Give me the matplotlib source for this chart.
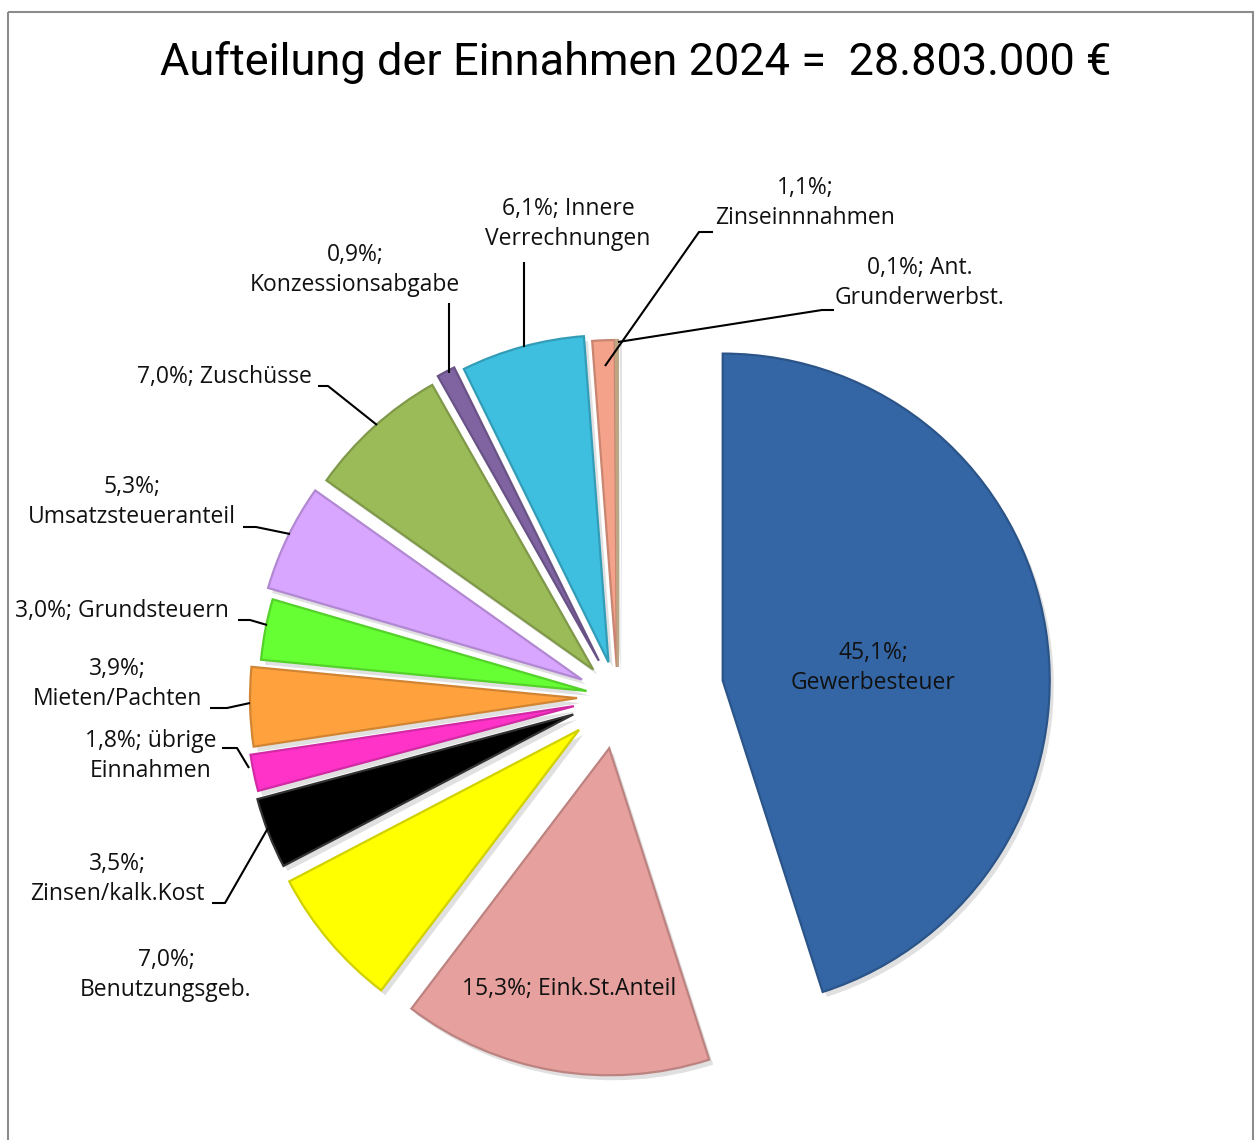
import matplotlib
matplotlib.use("Agg")
import matplotlib.pyplot as plt
from matplotlib.patches import Rectangle
import matplotlib.colors as mcolors

# ---- data ----
categories = ["Gewerbesteuer", "Eink.St.Anteil", "Benutzungsgeb.", "Zinsen/kalk.Kost",
              "übrige Einnahmen", "Mieten/Pachten", "Grundsteuern", "Umsatzsteueranteil",
              "Zuschüsse", "Konzessionsabgabe", "Innere Verrechnungen", "Zinseinnnahmen",
              "Ant. Grunderwerbst."]
values = [45.1, 15.3, 7.0, 3.5, 1.8, 3.9, 3.0, 5.3, 7.0, 0.9, 6.1, 1.1, 0.1]
label_texts = ["45,1%;\nGewerbesteuer", "15,3%; Eink.St.Anteil", "7,0%;\nBenutzungsgeb.",
               "3,5%;\nZinsen/kalk.Kost", "1,8%; übrige\nEinnahmen", "3,9%;\nMieten/Pachten",
               "3,0%; Grundsteuern", "5,3%;\nUmsatzsteueranteil", "7,0%; Zuschüsse",
               "0,9%;\nKonzessionsabgabe", "6,1%; Innere\nVerrechnungen", "1,1%;\nZinseinnnahmen",
               "0,1%; Ant.\nGrunderwerbst."]
title = "Aufteilung der Einnahmen 2024 =  28.803.000 €"

# ---- style ----
colors = ["#3466a6", "#e6a09d", "#ffff00", "#000000", "#ff33c8", "#ffa23e", "#66ff33",
          "#d8a6ff", "#9bbb59", "#8064a2", "#3ebfe0", "#f4a28a", "#e8c9a0"]
explode = [106, 52, 51, 48, 45, 41, 32, 40, 37, 41, 36, 30, 30]
label_pos = [(873, 668), (569, 989), (166, 975), (117, 879), (151, 756), (117, 684),
             (122, 611), (132, 502), (224, 377), (355, 270), (568, 224), (805, 203),
             (920, 283)]
leaders = {
    3: [(212, 903), (225, 903), (268, 828)],
    4: [(222, 748), (237, 748), (249, 768)],
    5: [(210, 708), (227, 708), (250, 703)],
    6: [(238, 620), (250, 620), (267, 625)],
    7: [(243, 527), (256, 527), (290, 534)],
    8: [(318, 386), (328, 386), (377, 425)],
    9: [(449, 303), (449, 373)],
    10: [(524, 262), (524, 347)],
    11: [(713, 232), (699, 232), (605, 366)],
    12: [(834, 310), (822, 310), (618, 342)],
}

W, H = 1255, 1140
fig = plt.figure(figsize=(W / 100, H / 100), dpi=100)
ax = fig.add_axes([0, 0, 1, 1])

center = (618, 697)
radius = 327

def darker(c, f=0.75):
    r, g, b = mcolors.to_rgb(c)
    return (r * f, g * f, b * f)

# shadow
sh, _ = ax.pie(values, explode=explode, radius=radius, center=(center[0] + 4, center[1] + 5),
               startangle=-90, counterclock=True, colors=["#000000"] * len(values),
               wedgeprops=dict(linewidth=0, alpha=0.12))
wedges, _ = ax.pie(values, explode=explode, radius=radius, center=center,
                   startangle=-90, counterclock=True, colors=colors,
                   wedgeprops=dict(linewidth=1.6))
for w, c in zip(wedges, colors):
    w.set_edgecolor(darker(c, 0.82) if c != "#000000" else "#333333")

ax.set_xlim(0, W)
ax.set_ylim(H, 0)
ax.set_aspect("equal")
ax.axis("off")

fam = ["Open Sans", "DejaVu Sans"]
for i, (txt, (x, y)) in enumerate(zip(label_texts, label_pos)):
    ax.text(x, y, txt, ha="center", va="center", fontsize=16.5, family=fam,
            linespacing=1.38, color="#111111")

for pts in leaders.values():
    xs = [p[0] for p in pts]
    ys = [p[1] for p in pts]
    ax.plot(xs, ys, color="black", lw=1.5, solid_capstyle="butt")

ax.text(636, 62, title, ha="center", va="center", fontsize=32.5,
        family=["Roboto", "DejaVu Sans"], color="black")

ax.add_patch(Rectangle((8, 12), 1245, 1140, fill=False, edgecolor="#8c8c8c", lw=1.5))

fig.savefig("out.png", dpi=100, facecolor="white")
